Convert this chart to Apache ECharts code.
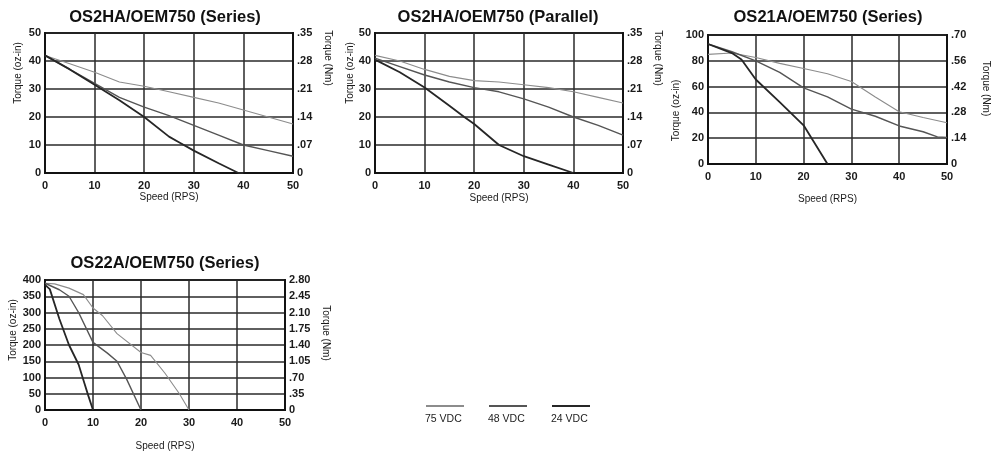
<!DOCTYPE html>
<html><head><meta charset="utf-8">
<script src="https://cdn.jsdelivr.net/npm/echarts@6/dist/echarts.min.js"></script>
<style>html,body{margin:0;padding:0;background:#fff}#c{width:996px;height:454px}</style>
</head><body><div id="c"></div>
<script>
// ---- Data ----
const titles = ['OS2HA/OEM750 (Series)', 'OS2HA/OEM750 (Parallel)', 'OS21A/OEM750 (Series)', 'OS22A/OEM750 (Series)'];
const voltages = ['75 VDC', '48 VDC', '24 VDC'];

// Chart 1: OS2HA/OEM750 (Series)
const c1Speed75 = [0,5,10,15,20,25,30,35,40,45,50];
const c1Torque75 = [42,39,36,32.5,31,29,27,25,22.5,20,17.5];
const c1Speed48 = [0,5,10,15,20,25,30,35,40,45,50];
const c1Torque48 = [42,37,32,27,23.5,20.5,17,13.5,10,8,6];
const c1Speed24 = [0,5,10,15,20,25,27,30,35,39,40];
const c1Torque24 = [42,37,31.5,26,20,13,11,8,3.5,0,0];

// Chart 2: OS2HA/OEM750 (Parallel)
const c2Speed75 = [0,5,10,15,20,25,30,35,40,45,50];
const c2Torque75 = [42,40,37,34.5,33,32.5,31.5,30.5,29,27,25];
const c2Speed48 = [0,5,10,15,20,25,30,35,40,45,50];
const c2Torque48 = [41,38,35,32.5,30.5,29,26.5,23.5,20,17,13.5];
const c2Speed24 = [0,5,10,15,18,20,25,30,35,40];
const c2Torque24 = [40.5,36,30.5,24,20,17.5,10,6,3,0];

// Chart 3: OS21A/OEM750 (Series)
const c3Speed75 = [0,5,10,15,20,25,30,35,40,45,50];
const c3Torque75 = [85,86,82.5,78,74,70,64,52,40.5,36,32];
const c3Speed48 = [0,5,10,15,20,25,30,35,40,45,48,50];
const c3Torque48 = [93,87,80,71,59,52,42.5,37,29.5,25,21,20.5];
const c3Speed24 = [0,5,7,10,15,20,22,25];
const c3Torque24 = [93,86,81,65.5,48,30,18,0];

// Chart 4: OS22A/OEM750 (Series)
const c4Speed75 = [0,2,5,8,10,12,15,20,22,25,28,30];
const c4Torque75 = [390,388,375,355,314,290,235,177,168,113,50,0];
const c4Speed48 = [0,3,5,7,10,13,15,17,20];
const c4Torque48 = [390,370,350,300,208,175,150,95,0];
const c4Speed24 = [0,1,3,5,7,8,9,10];
const c4Torque24 = [385,372,280,200,140,92,45,0];

// Axis tick labels
const xTicks = ['0','10','20','30','40','50'];
const c1RightTicks = ['0','.07','.14','.21','.28','.35'];
const c2RightTicks = ['0','.07','.14','.21','.28','.35'];
const c3RightTicks = ['0','.14','.28','.42','.56','.70'];
const c4RightTicks = ['0','.35','.70','1.05','1.40','1.75','2.10','2.45','2.80'];

// ---- Styling / layout ----
const lineColors = ['#8c8c8c', '#555555', '#262626'];
const lineWidths = [1.1, 1.4, 1.8];
const grids = [
  {left:45, top:33, width:248, height:140},
  {left:375, top:33, width:248, height:140},
  {left:708, top:35, width:239, height:129},
  {left:45, top:280, width:240, height:130}
];
const titlePos = [[160,4],[493,4],[823,4],[160,250]];
const yMax = [50,50,100,400];
const yInt = [10,10,20,50];
const rightTicks = [c1RightTicks, c2RightTicks, c3RightTicks, c4RightTicks];
const leftGap = [22,18,25,27];
const leftPad = [[0,0,0,60],[0,0,0,60],[0,22,0,0],[0,0,0,30]];
const rightGap = [30,30,34,36];
const rightPad = [[0,90,0,0],[0,90,0,0],[0,22,0,0],[0,24,0,0]];
const xNameGap = [16,20,30,31];
const seriesData = [
  [[c1Speed75,c1Torque75],[c1Speed48,c1Torque48],[c1Speed24,c1Torque24]],
  [[c2Speed75,c2Torque75],[c2Speed48,c2Torque48],[c2Speed24,c2Torque24]],
  [[c3Speed75,c3Torque75],[c3Speed48,c3Torque48],[c3Speed24,c3Torque24]],
  [[c4Speed75,c4Torque75],[c4Speed48,c4Torque48],[c4Speed24,c4Torque24]]
];

const font = '"Liberation Sans", Arial, sans-serif';
const labelStyle = {color:'#1a1a1a', fontSize:11, fontWeight:'bold', fontFamily:font};
const nameStyle = {color:'#1a1a1a', fontSize:10, fontFamily:font};
const splitStyle = {show:true, lineStyle:{color:'#2a2a2a', width:1.5}};

const option = {
  animation:false,
  backgroundColor:'#fff',
  textStyle:{fontFamily:font},
  title: titles.map((t,i)=>({
    text:t, left:titlePos[i][0], top:titlePos[i][1], textAlign:'center',
    textStyle:{fontSize:16.5, fontWeight:'bold', color:'#111', fontFamily:font}
  })),
  grid: grids.map(g=>Object.assign({show:true, borderColor:'#111', borderWidth:1.8, backgroundColor:'transparent'}, g)),
  xAxis: grids.map((g,i)=>({
    type:'value', gridIndex:i, min:0, max:50, interval:10,
    name:'Speed (RPS)', nameLocation:'middle', nameGap:xNameGap[i], nameTextStyle:nameStyle,
    axisLine:{show:true, lineStyle:{color:'#111', width:1.8}}, axisTick:{show:false},
    axisLabel:Object.assign({margin:7, formatter:(v)=>xTicks[Math.round(v/10)]}, labelStyle),
    splitLine:splitStyle
  })),
  yAxis: [].concat(...grids.map((g,i)=>[
    {type:'value', gridIndex:i, min:0, max:yMax[i], interval:yInt[i], position:'left',
     name:'Torque (oz-in)', nameLocation:'middle', nameGap:leftGap[i],
     nameTextStyle:Object.assign({padding:leftPad[i]}, nameStyle),
     axisLine:{show:true, lineStyle:{color:'#111', width:1.8}}, axisTick:{show:false},
     axisLabel:Object.assign({margin:4}, labelStyle), splitLine:splitStyle},
    {type:'value', gridIndex:i, min:0, max:yMax[i], interval:yInt[i], position:'right',
     name:'Torque (Nm)', nameLocation:'middle', nameGap:rightGap[i], nameRotate:-90,
     nameTextStyle:Object.assign({padding:rightPad[i]}, nameStyle),
     axisLine:{show:true, lineStyle:{color:'#111', width:1.8}}, axisTick:{show:false},
     axisLabel:Object.assign({margin:4, formatter:(v)=>rightTicks[i][Math.round(v/yInt[i])]}, labelStyle),
     splitLine:{show:false}}
  ])),
  legend: voltages.map((v,k)=>({
    data:[v], left:420 + k*63, top:400, icon:'rect', itemWidth:38, itemHeight:2,
    selectedMode:false,
    formatter:(name)=>'{t|' + name + '}',
    textStyle:{fontFamily:font, fontSize:10.5, color:'#222', padding:[0,0,0,-44],
      rich:{t:{color:'#222', fontSize:10.5, fontFamily:font, lineHeight:37, verticalAlign:'bottom'}}}
  })),
  series: [].concat(...seriesData.map((chart,i)=>chart.map((s,k)=>({
    type:'line', name:voltages[k], xAxisIndex:i, yAxisIndex:i*2,
    data:s[0].map((x,j)=>[x, s[1][j]]),
    showSymbol:false, symbol:'none',
    lineStyle:{color:lineColors[k], width:lineWidths[k]},
    itemStyle:{color:lineColors[k]}, z:3
  }))))
};
const chart = echarts.init(document.getElementById('c'), null, {renderer:'canvas'});
chart.setOption(option);
</script></body></html>
